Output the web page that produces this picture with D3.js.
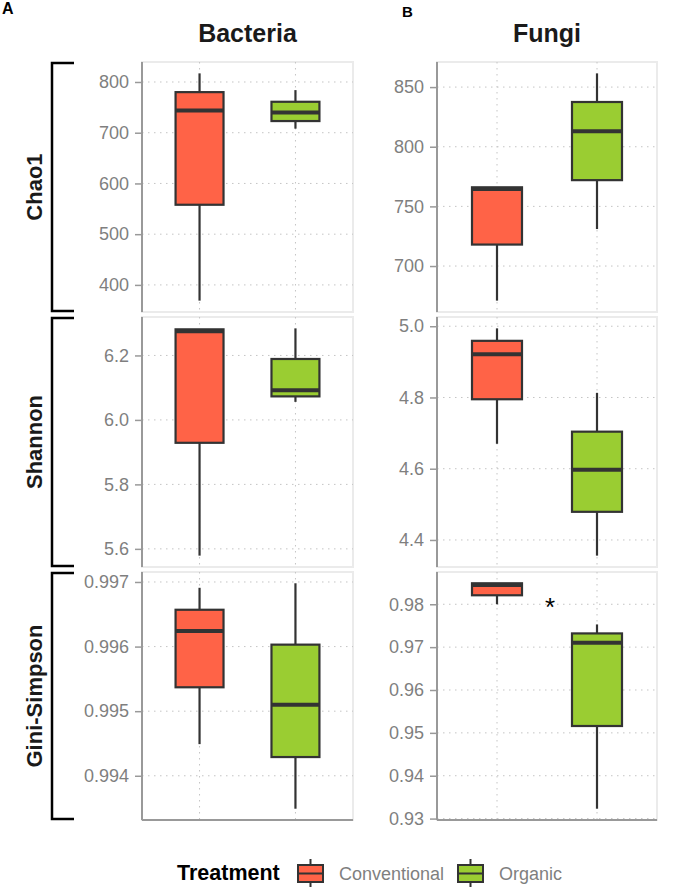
<!DOCTYPE html>
<html>
<head>
<meta charset="utf-8">
<script src="https://cdn.jsdelivr.net/npm/d3@7"></script>
<style>
  body { margin: 0; background: #fff; }
  svg { font-family: "Liberation Sans", Arial, sans-serif; }
  .tick text { fill: #7f7f7f; font-size: 18px; }
</style>
</head>
<body>
<svg id="chart" width="685" height="888"></svg>
<script>
// boxplot stats: [min, q1, median, q3, max] for Conventional, Organic
var treatments = ["Conventional", "Organic"];
var kingdoms = ["Bacteria", "Fungi"];
var metrics = ["Chao1", "Shannon", "Gini-Simpson"];

var bacteriaChao1 = [[369, 558, 744, 780, 817], [708, 723, 740, 761, 784]];
var bacteriaShannon = [[5.579, 5.929, 6.275, 6.281, 6.281], [6.056, 6.073, 6.092, 6.189, 6.284]];
var bacteriaGini = [[0.99449, 0.99537, 0.99624, 0.99657, 0.99691], [0.99349, 0.99429, 0.99510, 0.99603, 0.99698]];
var fungiChao1 = [[671, 718, 764.5, 766, 766], [731, 772, 813, 837.5, 861.5]];
var fungiShannon = [[4.670, 4.795, 4.921, 4.959, 4.994], [4.356, 4.479, 4.597, 4.704, 4.813]];
var fungiGini = [[0.9800, 0.9821, 0.9845, 0.9849, 0.9849], [0.9323, 0.9516, 0.9710, 0.9732, 0.9753]];

var bacteriaChao1Ticks = [400, 500, 600, 700, 800];
var bacteriaShannonTicks = [5.6, 5.8, 6.0, 6.2];
var bacteriaGiniTicks = [0.994, 0.995, 0.996, 0.997];
var fungiChao1Ticks = [700, 750, 800, 850];
var fungiShannonTicks = [4.4, 4.6, 4.8, 5.0];
var fungiGiniTicks = [0.93, 0.94, 0.95, 0.96, 0.97, 0.98];

var colors = ["#ff6347", "#9acd32"];

var panels = [
  [bacteriaChao1, bacteriaChao1Ticks, ".0f", 0, 0],
  [bacteriaShannon, bacteriaShannonTicks, ".1f", 0, 1],
  [bacteriaGini, bacteriaGiniTicks, ".3f", 0, 2],
  [fungiChao1, fungiChao1Ticks, ".0f", 1, 0],
  [fungiShannon, fungiShannonTicks, ".1f", 1, 1],
  [fungiGini, fungiGiniTicks, ".2f", 1, 2]
];

var colX = [[142, 353], [437, 657]];
var rowY = [[62, 312], [317, 567], [572, 820]];

var svg = d3.select("#chart");

panels.forEach(function(p) {
  var stats = p[0], ticks = p[1], fmt = p[2];
  var xr = colX[p[3]], yr = rowY[p[4]];
  var lo = d3.min(stats, d => d[0]), hi = d3.max(stats, d => d[4]);
  var pad = (hi - lo) * 0.05;

  var y = d3.scaleLinear().domain([lo - pad, hi + pad]).range([yr[1], yr[0]]);
  var x = d3.scalePoint().domain(treatments).range(xr).padding(0.6);
  var bw = x.step() * 0.5;

  var g = svg.append("g");

  // panel border
  g.append("rect")
    .attr("x", xr[0]).attr("y", yr[0])
    .attr("width", xr[1] - xr[0]).attr("height", yr[1] - yr[0])
    .attr("fill", "none").attr("stroke", "#ebebeb").attr("stroke-width", 2);

  // grid
  g.selectAll(".hg").data(ticks).enter().append("line")
    .attr("x1", xr[0]).attr("x2", xr[1])
    .attr("y1", d => y(d)).attr("y2", d => y(d))
    .attr("stroke", "#c4c4c4").attr("stroke-dasharray", "1.5,4.5");
  g.selectAll(".vg").data(treatments).enter().append("line")
    .attr("x1", d => x(d)).attr("x2", d => x(d))
    .attr("y1", yr[0]).attr("y2", yr[1])
    .attr("stroke", "#c4c4c4").attr("stroke-dasharray", "1.5,4.5");

  // y axis
  var ax = g.append("g")
    .attr("transform", "translate(" + xr[0] + ",0)")
    .call(d3.axisLeft(y).tickValues(ticks).tickFormat(d3.format(fmt)).tickSize(7).tickSizeOuter(0).tickPadding(6));
  ax.select(".domain").remove();
  ax.selectAll(".tick line").attr("stroke", "#999").attr("stroke-width", 1.5);
  ax.selectAll(".tick text").attr("font-family", null).attr("font-size", null);
  g.append("line")
    .attr("x1", xr[0]).attr("x2", xr[0]).attr("y1", yr[0]).attr("y2", yr[1])
    .attr("stroke", "#999").attr("stroke-width", 2);
  if (p[4] === 2) {
    g.append("line")
      .attr("x1", xr[0]).attr("x2", xr[1]).attr("y1", yr[1]).attr("y2", yr[1])
      .attr("stroke", "#999").attr("stroke-width", 2);
  }

  // boxes
  var b = g.selectAll(".box").data(stats).enter().append("g");
  b.append("line")
    .attr("x1", (d, i) => x(treatments[i])).attr("x2", (d, i) => x(treatments[i]))
    .attr("y1", d => y(d[0])).attr("y2", d => y(d[4]))
    .attr("stroke", "#333").attr("stroke-width", 2.2);
  b.append("rect")
    .attr("x", (d, i) => x(treatments[i]) - bw / 2).attr("width", bw)
    .attr("y", d => y(d[3])).attr("height", d => y(d[1]) - y(d[3]))
    .attr("fill", (d, i) => colors[i]).attr("stroke", "#333").attr("stroke-width", 2.2);
  b.append("line")
    .attr("x1", (d, i) => x(treatments[i]) - bw / 2).attr("x2", (d, i) => x(treatments[i]) + bw / 2)
    .attr("y1", d => y(d[2])).attr("y2", d => y(d[2]))
    .attr("stroke", "#333").attr("stroke-width", 4);

  if (p[3] === 1 && p[4] === 2) {
    g.append("text")
      .attr("x", (x("Conventional") + x("Organic")) / 2 + 3).attr("y", y(0.98) + 12)
      .attr("text-anchor", "middle").attr("font-size", 26).attr("fill", "#000")
      .text("*");
  }
});

// column titles and tags
svg.selectAll(".coltitle").data(kingdoms).enter().append("text")
  .attr("x", (d, i) => (colX[i][0] + colX[i][1]) / 2)
  .attr("y", 42)
  .attr("text-anchor", "middle").attr("font-weight", "bold").attr("font-size", 25)
  .attr("fill", "#1a1a1a")
  .text(d => d);
svg.append("text").attr("x", 2).attr("y", 14).attr("font-weight", "bold").attr("font-size", 16).text("A");
svg.append("text").attr("x", 402).attr("y", 17).attr("font-weight", "bold").attr("font-size", 15).text("B");

// row labels with brackets
metrics.forEach(function(m, i) {
  var yr = rowY[i];
  svg.append("path")
    .attr("d", "M74," + (yr[0] + 1) + "H52V" + (yr[1] - 1) + "H74")
    .attr("fill", "none").attr("stroke", "#000").attr("stroke-width", 2.5);
  svg.append("text")
    .attr("transform", "translate(42," + ((yr[0] + yr[1]) / 2) + ") rotate(-90)")
    .attr("text-anchor", "middle").attr("font-weight", "bold").attr("font-size", 22)
    .attr("fill", "#1a1a1a")
    .text(m);
});

// legend
var lg = svg.append("g");
lg.append("text").attr("x", 177).attr("y", 880).attr("font-weight", "bold").attr("font-size", 21.5)
  .attr("fill", "#000").text("Treatment");
var keyX = [298, 458], labX = [339, 499];
treatments.forEach(function(t, i) {
  var kx = keyX[i];
  lg.append("line").attr("x1", kx + 12.5).attr("x2", kx + 12.5).attr("y1", 859).attr("y2", 887)
    .attr("stroke", "#333").attr("stroke-width", 2);
  lg.append("rect").attr("x", kx).attr("y", 865).attr("width", 25).attr("height", 17)
    .attr("fill", colors[i]).attr("stroke", "#333").attr("stroke-width", 2);
  lg.append("line").attr("x1", kx).attr("x2", kx + 25).attr("y1", 873.5).attr("y2", 873.5)
    .attr("stroke", "#333").attr("stroke-width", 2);
  lg.append("text").attr("x", labX[i]).attr("y", 879.5).attr("font-size", 18)
    .attr("fill", "#7f7f7f").text(t);
});
</script>
</body>
</html>
